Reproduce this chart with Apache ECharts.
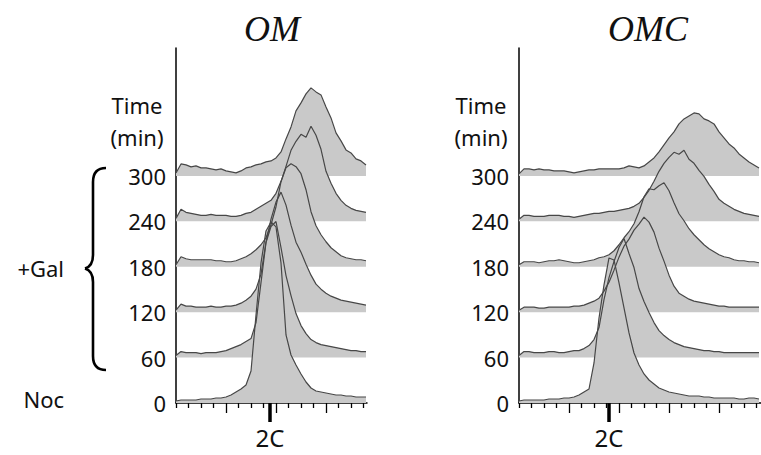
<!DOCTYPE html>
<html><head><meta charset="utf-8">
<script src="https://cdn.jsdelivr.net/npm/echarts@6/dist/echarts.min.js"></script>
<style>html,body{margin:0;padding:0;background:#fff}#c{width:761px;height:455px}</style>
</head><body><div id="c"></div>
<script>
// ---- data ----
const ROW_TIMES = [0, 60, 120, 180, 240, 300];
const Y_TICK_LABELS = ['0', '60', '120', '180', '240', '300'];
const PANEL_TITLES = ['OM', 'OMC'];
const X_TICK_LABEL = '2C';
const TWO_C_OM = 37.6;
const TWO_C_OMC = 36;
const X_OM = [0,2,4,6,8,10,12,14,16,18,20,22,24,26,28,30,32,34,36,38,40,42,44,46,48,50,52,54,56,58,60,62,64,66,68,70,72,74,76];
const X_OMC = [0,2,4,6,8,10,12,14,16,18,20,22,24,26,28,30,32,34,36,38,40,42,44,46,48,50,52,54,56,58,60,62,64,66,68,70,72,74,76,78,80,82,84,86,88,90,92,94,96];

// OM histograms (counts), one per time point
const OM_0   = [2,3,3,3,3,4,4,4,5,5,6,8,11,14,18,32,88,140,172,181,176,140,68,48,38,29,21,15,12,11,10,9,8,8,7,7,6,6,6];
const OM_60  = [2,6,5,5,5,4,5,5,5,6,7,9,11,13,16,19,35,75,115,131,136,110,82,62,44,32,24,18,15,13,12,11,10,9,8,7,7,6,6];
const OM_120 = [2,8,6,6,5,5,5,6,5,5,6,6,7,9,12,16,23,38,70,93,110,120,107,87,70,60,48,37,28,23,19,16,14,12,11,10,9,8,7];
const OM_180 = [2,10,8,7,7,7,7,7,6,6,5,5,6,8,10,13,17,22,29,42,60,85,99,103,100,93,77,55,41,32,25,19,15,11,9,8,7,7,6];
const OM_240 = [3,12,9,8,7,6,6,7,6,6,6,5,5,6,8,9,12,15,18,21,28,40,55,71,80,87,84,95,86,72,50,38,28,21,16,13,11,10,9];
const OM_300 = [3,12,11,9,10,8,8,7,6,7,5,4,3,5,8,9,11,12,14,15,18,24,37,49,65,73,82,88,84,81,69,58,43,35,26,23,17,15,11];

// OMC histograms (counts)
const OMC_0   = [2,3,3,3,3,3,4,4,4,5,5,6,8,11,14,40,85,118,145,143,120,95,70,50,38,29,23,19,15,13,11,10,9,8,7,7,7,6,6,5,5,5,5,5,4,4,5,5,4];
const OMC_60  = [2,6,6,5,5,5,6,6,5,5,6,7,7,9,12,18,30,58,80,96,110,119,104,90,69,56,45,35,27,22,18,15,13,11,10,9,8,7,7,6,6,5,5,5,5,5,5,5,5];
const OMC_120 = [2,5,5,5,4,4,5,5,5,5,5,6,6,7,9,11,14,21,30,42,55,66,73,82,88,95,90,80,64,51,37,26,19,16,13,11,10,9,8,7,6,6,5,5,5,5,5,5,5];
const OMC_180 = [2,5,5,5,4,5,6,6,7,6,5,4,4,5,6,7,9,10,12,16,22,29,35,43,55,70,78,77,81,84,76,64,53,46,38,32,27,22,18,15,12,10,9,7,6,6,5,5,4];
const OMC_240 = [2,6,6,5,5,5,6,6,6,5,5,4,5,6,7,8,8,9,10,10,11,12,13,15,18,24,31,40,50,58,64,69,67,71,62,58,51,45,37,30,22,18,15,12,10,8,7,6,5];
const OMC_300 = [2,7,7,6,7,6,6,5,5,5,4,3,4,5,6,6,7,7,7,7,7,8,10,9,8,10,14,18,24,31,38,44,52,57,60,63,62,57,55,52,44,38,32,28,22,18,14,11,8];

// ---- chart ----
const K = 60 / 45.4;           // count units -> minutes of row offset
const FILL = '#c9c9c9', LINE = '#474747', INK = '#111';
const SANS = '"Noto Sans", "Open Sans", sans-serif';

const panels = [
  {title: PANEL_TITLES[0], x: X_OM, rows: [OM_0, OM_60, OM_120, OM_180, OM_240, OM_300], twoC: TWO_C_OM,
   xMax: 76.4, left: 176, width: 191, titleX: 272, timeX: 137},
  {title: PANEL_TITLES[1], x: X_OMC, rows: [OMC_0, OMC_60, OMC_120, OMC_180, OMC_240, OMC_300], twoC: TWO_C_OMC,
   xMax: 96.8, left: 519, width: 242, titleX: 648, timeX: 481}
];

function txt(x, y, text, font, align) {
  return {type: 'text', x: x, y: y, silent: true, style: {text: text, font: font, fill: INK,
    align: align, verticalAlign: 'middle', textAlign: align, textVerticalAlign: 'middle'}};
}

const grid = [], xAxis = [], yAxis = [], series = [], graphic = [];
panels.forEach((p, g) => {
  grid.push({left: p.left, top: 48, width: p.width, height: 355, containLabel: false});
  const minor = [], major = [];
  for (let v = 0; v <= p.xMax; v += 5) { (v % 20 === 0 && v > 0 ? major : minor).push(v); }
  const base = {type: 'value', gridIndex: g, position: 'bottom', offset: 0, min: 0, max: p.xMax, splitLine: {show: false}};
  xAxis.push(Object.assign({}, base, {
    axisLine: {show: true, lineStyle: {color: '#000', width: 1.5}},
    axisTick: {show: true, customValues: minor, length: 5, lineStyle: {color: '#000', width: 1.3}},
    axisLabel: {show: false}
  }));
  xAxis.push(Object.assign({}, base, {
    axisLine: {show: false},
    axisTick: {show: true, customValues: major, length: 10, lineStyle: {color: '#000', width: 1.3}},
    axisLabel: {show: false}
  }));
  xAxis.push(Object.assign({}, base, {
    axisLine: {show: false},
    axisTick: {show: true, customValues: [p.twoC], length: 19, lineStyle: {color: '#000', width: 3.5}},
    axisLabel: {show: true, customValues: [p.twoC], formatter: () => X_TICK_LABEL, margin: 22,
                fontSize: 24, color: INK, fontFamily: SANS}
  }));
  yAxis.push({
    type: 'value', gridIndex: g, min: 0, max: 469, interval: 60,
    axisLine: {show: true, lineStyle: {color: '#000', width: 1.5}},
    axisTick: {show: false}, splitLine: {show: false},
    axisLabel: {show: true, margin: 10, fontSize: 22, color: INK, fontFamily: SANS, padding: [0, 0, 11, 0],
      formatter: v => { const i = ROW_TIMES.indexOf(v); return i >= 0 ? Y_TICK_LABELS[i] : ''; }}
  });
  for (let r = ROW_TIMES.length - 1; r >= 0; r--) {
    const t = ROW_TIMES[r];
    const h = p.rows[r];
    series.push({
      type: 'line', xAxisIndex: g * 3, yAxisIndex: g, symbol: 'none', silent: true, animation: false,
      data: p.x.map((x, i) => [x, t + h[i] * K]),
      lineStyle: {color: LINE, width: 1.2},
      areaStyle: {color: FILL, opacity: 1, origin: t}
    });
  }
  graphic.push(txt(p.titleX, 29, p.title, 'italic 36px "Liberation Serif", serif', 'center'));
  graphic.push(txt(p.timeX, 105, 'Time', '22px ' + SANS, 'center'));
  graphic.push(txt(p.timeX, 137, '(min)', '22px ' + SANS, 'center'));
});

graphic.push(txt(64, 268, '+Gal', '22px ' + SANS, 'right'));
graphic.push(txt(64, 399, 'Noc', '22px ' + SANS, 'right'));
// curly brace
const bs = {fill: 'none', stroke: '#000', lineWidth: 2.6};
graphic.push({type: 'bezierCurve', silent: true, shape: {x1: 106, y1: 168, cpx1: 98, cpy1: 168, cpx2: 93, cpy2: 172, x2: 93, y2: 182}, style: bs});
graphic.push({type: 'line', silent: true, shape: {x1: 93, y1: 182, x2: 93, y2: 255}, style: bs});
graphic.push({type: 'bezierCurve', silent: true, shape: {x1: 93, y1: 255, cpx1: 93, cpy1: 263, cpx2: 90, cpy2: 267, x2: 85, y2: 268.5}, style: bs});
graphic.push({type: 'bezierCurve', silent: true, shape: {x1: 85, y1: 268.5, cpx1: 90, cpy1: 270, cpx2: 93, cpy2: 274, x2: 93, y2: 282}, style: bs});
graphic.push({type: 'line', silent: true, shape: {x1: 93, y1: 282, x2: 93, y2: 356}, style: bs});
graphic.push({type: 'bezierCurve', silent: true, shape: {x1: 93, y1: 356, cpx1: 93, cpy1: 366, cpx2: 98, cpy2: 370, x2: 106, y2: 370}, style: bs});

const chart = echarts.init(document.getElementById('c'), null, {renderer: 'svg', width: 761, height: 455});
chart.setOption({animation: false, backgroundColor: '#fff', grid, xAxis, yAxis, series, graphic});
</script>
</body></html>
